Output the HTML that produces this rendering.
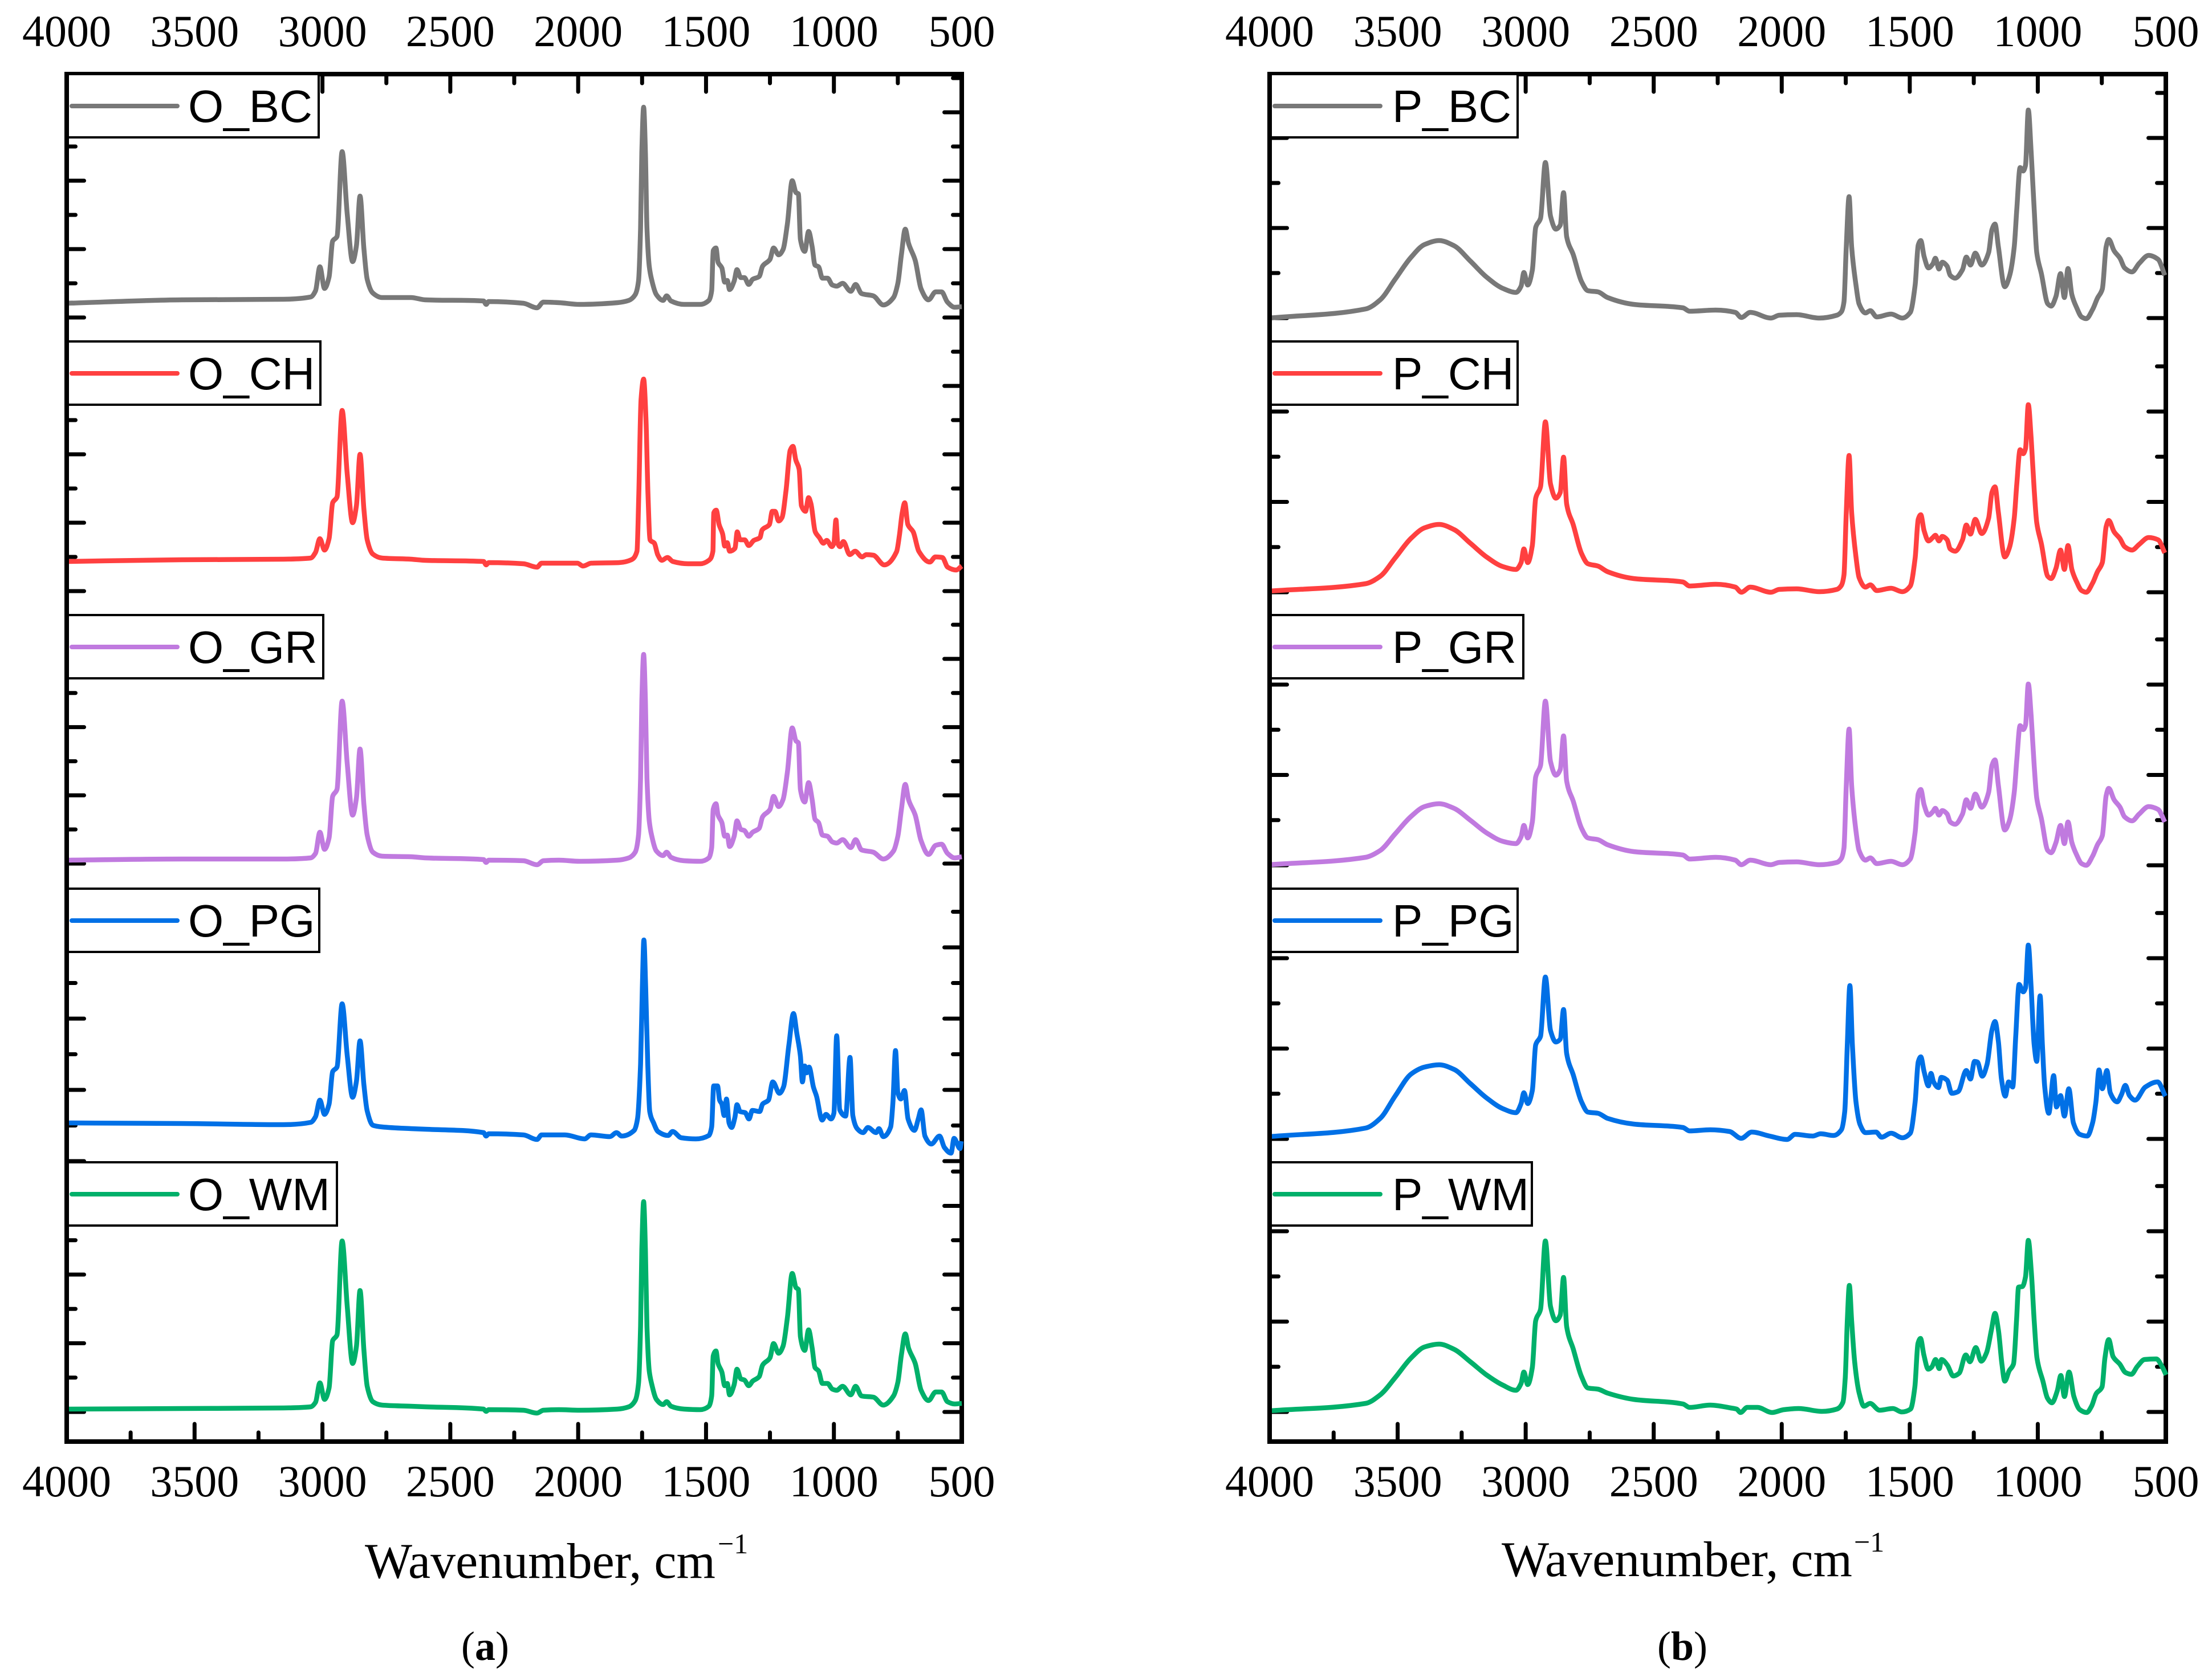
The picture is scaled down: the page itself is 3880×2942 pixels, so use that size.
<!DOCTYPE html>
<html lang="en">
<head>
<meta charset="utf-8">
<title>FTIR spectra</title>
<style>
html,body{margin:0;padding:0;background:#fff}
svg{display:block}
.tick-label{font-family:"Liberation Serif",serif;font-size:78px;fill:#000;text-anchor:middle}
.legend-text{font-family:"Liberation Sans",sans-serif;font-size:80px;fill:#000}
.axis-title{font-family:"Liberation Serif",serif;font-size:88px;fill:#000}
.axis-sup{font-family:"Liberation Serif",serif;font-size:50px;fill:#000}
.caption{font-family:"Liberation Serif",serif;font-size:72px;fill:#000}
</style>
</head>
<body>
<svg id="chart" xmlns="http://www.w3.org/2000/svg" width="3880" height="2942" viewBox="0 0 3880 2942">
  <rect x="0" y="0" width="3880" height="2942" fill="#ffffff"/>
  <g id="panel-a"></g>
  <g id="panel-b"></g>
  <text class="axis-title" x="640" y="2768">Wavenumber, cm</text>
  <text class="axis-sup" x="1259" y="2725">−1</text>
  <text class="axis-title" x="2634" y="2765">Wavenumber, cm</text>
  <text class="axis-sup" x="3252" y="2722">−1</text>
  <text class="caption" x="809" y="2912">(<tspan font-weight="bold">a</tspan>)</text>
  <text class="caption" x="2907" y="2912">(<tspan font-weight="bold">b</tspan>)</text>
</svg>
<script>
// ---- chart data ----
const xTickLabels = [4000, 3500, 3000, 2500, 2000, 1500, 1000, 500];
const xMinorTicks = [3750, 3250, 2750, 2250, 1750, 1250, 750];

const wnO = [4000,3550,3152,3046,3027,3010,2992,2974,2960,2943,2923,2903,2882,2867,2853,2838,2825,2803,2767,2654,2598,2370,2360,2350,2214,2161,2136,2075,1995,1847,1802,1777,1764,1756,1751,1744,1737,1731,1722,1713,1694,1668,1654,1637,1586,1523,1489,1478,1472,1461,1453,1438,1427,1417,1408,1390,1379,1364,1350,1333,1318,1292,1279,1250,1236,1216,1199,1182,1163,1148,1139,1131,1114,1099,1085,1074,1060,1045,1025,1006,989,966,934,915,892,846,807,767,750,736,721,708,682,659,630,602,579,556,528,500];
const absOBC = [25,31,32,36,47,89,51,71,134,142,291,181,98,126,213,122,67,43,35,35,31,29,23,28,25,17,27,26,23,26,30,40,64,157,290,369,290,157,90,67,40,30,38,29,23,23,30,47,117,122,97,87,62,65,49,64,84,70,70,58,67,72,90,102,122,110,119,164,240,219,217,137,116,151,124,92,89,69,69,57,55,60,46,58,42,38,22,35,60,110,155,130,100,50,31,45,45,27,18,19];
const absOGR = [6,8,8,10,18,55,25,45,118,130,285,175,85,115,201,105,50,20,13,12,10,7,2,6,5,-2,5,6,4,6,10,20,50,150,285,367,285,150,75,50,22,14,20,11,5,4,10,28,95,105,85,72,48,50,30,48,75,60,58,48,55,62,82,95,118,100,112,160,238,215,212,130,108,142,112,78,72,50,48,38,36,42,28,42,24,20,8,22,48,95,139,112,85,40,16,32,34,18,10,12];
const absOWM = [5,6,7,9,17,51,22,42,125,135,300,185,85,115,213,110,45,18,12,10,9,5,1,4,3,-2,3,4,3,5,9,20,50,150,285,369,285,150,72,50,22,13,18,10,5,4,10,28,98,107,85,70,46,50,30,48,75,58,56,46,54,62,82,95,120,103,115,165,243,218,215,132,108,144,112,78,72,50,50,40,38,45,30,45,28,26,12,28,52,100,137,112,85,38,20,35,35,18,14,15];

const wnOCH = [4000,3550,3152,3046,3027,3010,2992,2974,2960,2943,2923,2903,2882,2867,2853,2838,2825,2803,2767,2654,2598,2370,2360,2350,2214,2161,2143,2003,1981,1949,1840,1792,1770,1763,1754,1744,1735,1727,1719,1702,1689,1673,1651,1630,1570,1522,1489,1473,1470,1460,1449,1435,1427,1417,1408,1387,1378,1367,1349,1333,1313,1289,1281,1252,1241,1230,1216,1203,1187,1171,1160,1149,1136,1127,1111,1099,1090,1073,1057,1041,1028,1008,1000,992,985,976,963,938,917,890,873,846,803,755,744,733,723,711,690,668,625,603,576,555,522,500];
const absOCH = [52,55,56,58,68,92,72,92,155,165,317,205,120,150,240,145,90,65,58,56,54,52,46,50,48,42,49,49,44,49,50,55,70,170,337,372,304,170,90,84,64,54,59,52,48,48,54,70,137,142,117,100,79,85,70,75,104,90,90,80,89,94,107,117,140,140,123,129,177,247,254,230,214,150,140,164,154,104,94,84,89,78,84,125,84,78,87,64,70,60,64,63,46,69,97,137,155,117,104,70,51,60,59,42,37,44];

const wnOPG = [4000,3550,3152,3046,3027,3010,2992,2974,2960,2943,2923,2903,2882,2867,2853,2838,2825,2803,2767,2654,2598,2370,2360,2350,2214,2161,2143,2052,1975,1950,1876,1850,1830,1781,1768,1756,1749,1743,1736,1728,1720,1705,1688,1648,1631,1597,1540,1489,1478,1470,1455,1447,1438,1429,1420,1410,1400,1387,1379,1367,1347,1332,1319,1290,1279,1256,1239,1213,1197,1176,1158,1145,1131,1123,1114,1106,1097,1080,1068,1046,1031,1011,1000,989,977,954,937,926,909,886,867,835,824,807,778,769,759,750,738,724,710,685,670,659,644,619,587,568,542,530,507,502];
const absOPG = [67,66,64,68,78,107,82,100,157,165,276,185,112,140,211,135,88,63,60,57,56,50,44,48,46,38,46,46,39,46,43,50,44,54,74,170,304,388,304,170,87,67,52,45,52,41,39,45,60,132,132,107,100,80,109,67,59,77,99,87,85,74,89,87,100,107,139,119,130,204,259,224,184,139,167,155,165,130,114,72,82,74,84,220,90,79,182,80,57,50,59,50,57,43,60,104,194,120,109,124,74,54,74,90,44,30,44,24,14,40,22,35];

const wnP = [4000,3625,3568,3510,3447,3395,3338,3280,3216,3153,3089,3038,3018,3007,2992,2974,2961,2942,2923,2903,2882,2865,2852,2840,2814,2782,2757,2718,2680,2578,2386,2360,2258,2181,2158,2123,2042,2010,1942,1854,1785,1767,1757,1748,1737,1727,1710,1698,1673,1654,1629,1573,1529,1498,1479,1467,1457,1444,1427,1410,1400,1386,1373,1354,1342,1323,1294,1279,1263,1244,1219,1192,1179,1167,1154,1129,1111,1092,1082,1069,1057,1048,1037,1026,1014,1004,986,961,948,929,911,896,882,867,848,829,811,786,767,748,733,723,702,679,661,632,604,567,530,504];
const absPBC = [0,16,32,68,107,129,136,127,100,72,52,45,56,80,58,84,159,175,273,179,156,163,220,143,111,64,48,46,36,24,18,12,14,10,1,10,0,5,6,0,5,11,28,125,213,125,58,25,9,13,2,7,0,10,58,128,136,108,88,95,105,86,98,91,75,70,85,107,93,114,93,115,155,165,125,55,73,125,191,264,258,268,365,291,191,115,78,25,21,38,78,36,87,41,18,2,-1,15,35,51,125,138,118,105,88,81,96,110,103,75];
const absPCH = [2,15,28,60,95,113,119,110,86,62,45,40,52,76,52,82,165,185,299,190,165,175,237,155,118,68,50,46,36,24,18,11,14,9,0,9,0,5,6,1,5,12,30,140,240,140,62,26,9,13,3,7,1,11,60,128,136,108,90,96,100,90,98,92,76,72,92,118,102,128,103,130,175,185,140,62,78,130,190,250,243,252,329,270,180,122,85,28,24,42,74,40,82,40,18,3,0,16,36,52,115,126,106,94,80,74,84,96,92,69];
const absPGR = [1,14,26,55,86,103,108,100,79,57,42,38,50,70,48,76,155,175,288,182,158,168,227,148,112,65,48,45,36,24,18,11,14,9,1,9,1,5,6,1,5,12,30,140,239,140,60,26,9,13,3,7,1,11,58,125,133,106,88,94,100,88,96,90,76,72,90,115,100,125,102,128,175,185,140,62,78,128,185,245,238,246,318,262,175,118,82,26,22,40,70,38,76,40,18,3,0,16,36,52,122,135,115,102,85,78,90,103,98,76];

const wnPPG = [4000,3625,3568,3510,3447,3395,3338,3280,3216,3153,3089,3038,3018,3007,2992,2974,2961,2942,2923,2903,2882,2865,2852,2840,2814,2782,2757,2718,2680,2578,2386,2360,2279,2204,2158,2117,2048,1979,1948,1879,1848,1798,1767,1754,1744,1734,1724,1710,1694,1673,1632,1610,1573,1529,1498,1479,1467,1457,1444,1427,1417,1407,1388,1377,1354,1336,1311,1279,1263,1247,1236,1217,1198,1179,1167,1154,1142,1127,1114,1098,1086,1073,1057,1048,1037,1026,1014,1004,991,982,973,957,938,927,911,896,879,861,836,807,786,773,761,748,730,717,690,673,658,642,620,580,532,502];
const absPPG = [4,19,36,75,114,126,130,122,97,72,53,46,62,81,62,85,165,180,284,190,170,175,227,150,112,65,47,45,36,26,20,14,16,13,1,12,5,-1,8,5,9,6,16,48,165,269,165,65,25,11,12,3,10,2,10,65,135,144,118,93,115,100,90,108,103,80,83,120,105,136,135,110,131,191,206,171,105,75,100,91,181,271,258,265,340,265,165,136,251,165,91,45,111,56,76,40,88,28,8,5,28,65,121,88,120,81,65,78,94,76,68,91,100,75];

const wnPWM = [4000,3625,3568,3510,3447,3395,3338,3280,3216,3153,3089,3038,3018,3007,2992,2974,2961,2942,2923,2903,2882,2865,2852,2840,2814,2782,2757,2718,2680,2578,2386,2360,2279,2199,2176,2161,2135,2095,2038,1992,1934,1842,1785,1761,1752,1744,1736,1727,1715,1698,1679,1655,1618,1566,1531,1497,1480,1468,1458,1445,1428,1414,1399,1385,1376,1353,1330,1307,1281,1265,1242,1221,1200,1181,1167,1154,1140,1129,1112,1095,1083,1075,1060,1048,1037,1025,1014,1003,980,962,945,924,910,896,878,859,836,809,790,772,749,738,723,706,680,657,635,611,583,537,514,499];
const absPWM = [2,15,30,60,95,114,119,110,88,65,47,38,50,70,48,78,160,180,300,185,160,170,236,150,110,62,42,40,33,22,14,8,12,7,5,-1,8,8,-1,4,6,1,5,17,60,160,222,160,87,34,10,15,3,6,0,5,44,120,129,100,75,79,92,76,92,82,63,68,100,88,113,89,104,144,173,144,84,54,72,84,160,219,220,237,301,244,160,94,54,24,16,37,64,27,70,27,4,-1,10,32,44,94,127,97,84,69,66,80,92,93,79,65];

const seriesA = [
  {label:'O_BC', wn:wnO,   abs:absOBC},
  {label:'O_CH', wn:wnOCH, abs:absOCH},
  {label:'O_GR', wn:wnO,   abs:absOGR},
  {label:'O_PG', wn:wnOPG, abs:absOPG},
  {label:'O_WM', wn:wnO,   abs:absOWM}
];
const seriesB = [
  {label:'P_BC', wn:wnP,   abs:absPBC},
  {label:'P_CH', wn:wnP,   abs:absPCH},
  {label:'P_GR', wn:wnP,   abs:absPGR},
  {label:'P_PG', wn:wnPPG, abs:absPPG},
  {label:'P_WM', wn:wnPWM, abs:absPWM}
];

// ---- layout (not data) ----
const seriesColors = ['#787878','#ff4040','#c07adf','#0070e6','#00b06a'];
const layoutA = {
  left:117, right:1687, top:130, bottom:2529, yTickCount:8,
  bases:[557,1037,1515,2037,2477], steps:[120,120,119.7,125,120.5],
  legendTops:[130,599,1079,1559,2039], legendRights:[559,562,567,560,591],
  legendText:330
};
const layoutB = {
  left:2227, right:3799, top:130, bottom:2529, yTickCount:6,
  bases:[558,1039,1518,1998,2477], steps:[158,158.5,158.5,158.5,158.5],
  legendTops:[130,599,1079,1559,2039], legendRights:[2662,2662,2672,2662,2687],
  legendText:2442
};

const SVGNS = 'http://www.w3.org/2000/svg';
function mk(parent, tag, props){
  const n = document.createElementNS(SVGNS, tag);
  for (const k in props) n.setAttribute(k, props[k]);
  parent.appendChild(n);
  return n;
}

// monotone cubic path through the projected points (no overshoot at peaks)
function monotonePath(xs, ys){
  const n = xs.length;
  const h = [], d = [];
  for (let i = 0; i < n - 1; i++){
    h.push(xs[i+1] - xs[i]);
    d.push((ys[i+1] - ys[i]) / h[i]);
  }
  const m = new Array(n);
  m[0] = d[0];
  m[n-1] = d[n-2];
  for (let i = 1; i < n - 1; i++){
    if (d[i-1] * d[i] <= 0) { m[i] = 0; continue; }
    const w1 = 2 * h[i] + h[i-1], w2 = h[i] + 2 * h[i-1];
    m[i] = (w1 + w2) / (w1 / d[i-1] + w2 / d[i]);
  }
  let out = 'M' + xs[0].toFixed(1) + ' ' + ys[0].toFixed(1);
  for (let i = 0; i < n - 1; i++){
    const c1x = xs[i] + h[i] / 3, c1y = ys[i] + m[i] * h[i] / 3;
    const c2x = xs[i+1] - h[i] / 3, c2y = ys[i+1] - m[i+1] * h[i] / 3;
    out += 'C' + c1x.toFixed(1) + ' ' + c1y.toFixed(1) + ' ' + c2x.toFixed(1) + ' ' + c2y.toFixed(1) + ' ' + xs[i+1].toFixed(1) + ' ' + ys[i+1].toFixed(1);
  }
  return out;
}

function drawPanel(g, series, L, tag){
  const xAxis = wn => L.left + (4000 - wn) * (L.right - L.left) / 3500;
  const yAxis = (i, v) => L.bases[i] - v;
  const tickStyle = {stroke:'#000','stroke-width':7,'stroke-linecap':'round'};

  // x ticks (top and bottom)
  xTickLabels.forEach(t => {
    const px = xAxis(t);
    const tb = mk(g, 'line', Object.assign({x1:px, x2:px, y1:L.bottom, y2:L.bottom-31}, tickStyle));
    
    
    const tt = mk(g, 'line', Object.assign({x1:px, x2:px, y1:L.top, y2:L.top+31}, tickStyle));
    
    
    const lb = mk(g, 'text', {x:px, y:2625, class:'tick-label'});
    lb.textContent = t;
    
    
    const lt = mk(g, 'text', {x:px, y:81, class:'tick-label'});
    lt.textContent = t;
    
    
  });
  xMinorTicks.forEach(t => {
    const px = xAxis(t);
    const tb = mk(g, 'line', Object.assign({x1:px, x2:px, y1:L.bottom, y2:L.bottom-16}, tickStyle));
    
    
    const tt = mk(g, 'line', Object.assign({x1:px, x2:px, y1:L.top, y2:L.top+16}, tickStyle));
    
    
  });

  // y ticks, both sides, for every stacked sub-plot
  series.forEach((s, i) => {
    for (let k = 0; k < L.yTickCount; k++){
      const py = yAxis(i, k * L.steps[i] / 2);
      const len = k % 2 === 0 ? 30.5 : 15.5;
      const tl = mk(g, 'line', Object.assign({x1:L.left, x2:L.left+len, y1:py, y2:py}, tickStyle));
      
      
      const tr = mk(g, 'line', Object.assign({x1:L.right, x2:L.right-len, y1:py, y2:py}, tickStyle));
      
      
    }
  });

  // frame
  const frame = mk(g, 'rect', {x:L.left, y:L.top, width:L.right-L.left, height:L.bottom-L.top, fill:'none', stroke:'#000', 'stroke-width':8});
  
  

  // spectra
  series.forEach((s, i) => {
    const xs = s.wn.map(w => xAxis(w));
    const ys = s.abs.map(v => yAxis(i, v));
    const p = mk(g, 'path', {d:monotonePath(xs, ys), fill:'none', stroke:seriesColors[i], 'stroke-width':8.5, 'stroke-linejoin':'round', 'stroke-linecap':'butt'});
    
    
  });

  // legends
  series.forEach((s, i) => {
    const top = L.legendTops[i];
    const box = mk(g, 'rect', {x:L.left, y:top, width:L.legendRights[i]-L.left, height:111, fill:'#fff', stroke:'#000', 'stroke-width':4});
    
    
    const ln = mk(g, 'line', {x1:L.left+9, x2:L.left+194, y1:top+56, y2:top+56, stroke:seriesColors[i], 'stroke-width':8, 'stroke-linecap':'round'});
    
    
    const tx = mk(g, 'text', {x:L.legendText, y:top+84, class:'legend-text'});
    tx.textContent = s.label;
    
    
  });

  // left axis line stays solid beside the legends
  const leftAxis = mk(g, 'line', {x1:L.left, x2:L.left, y1:L.top-4, y2:L.bottom+4, stroke:'#000', 'stroke-width':8});
  
  
}

drawPanel(document.getElementById('panel-a'), seriesA, layoutA, 'a');
drawPanel(document.getElementById('panel-b'), seriesB, layoutB, 'b');
</script>
</body>
</html>
